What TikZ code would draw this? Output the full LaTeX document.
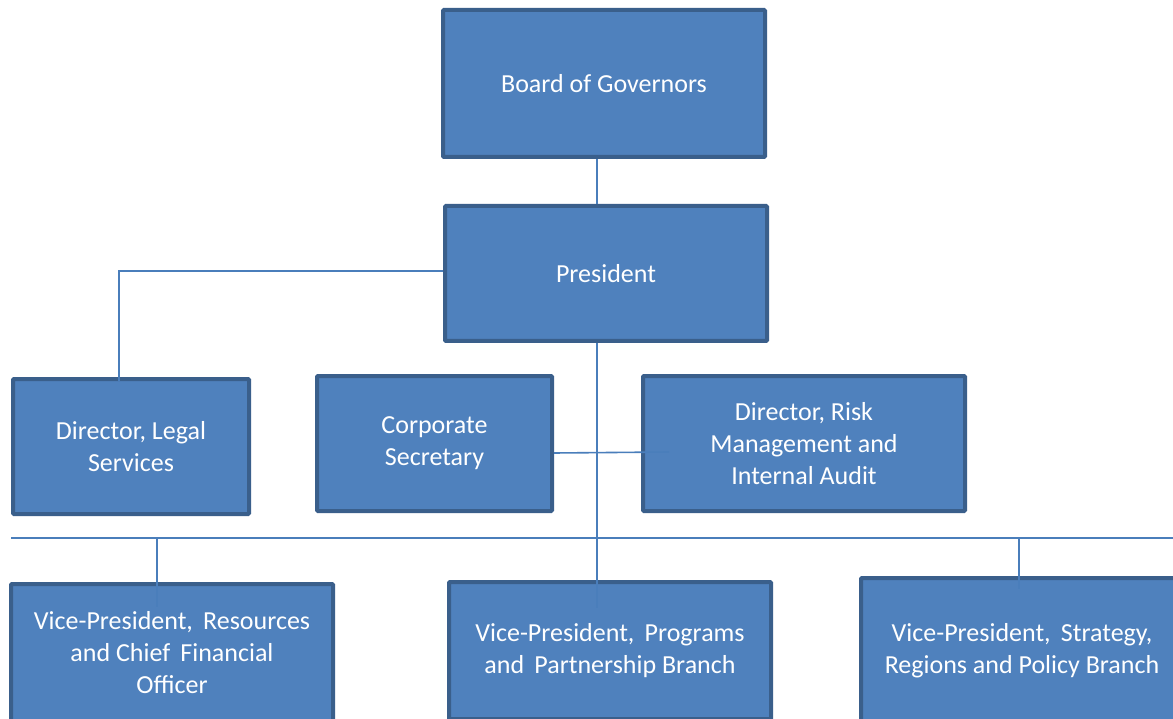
\documentclass[tikz,border=0pt]{standalone}
\usepackage{fontspec}
\setmainfont{Carlito}
\definecolor{boxfill}{HTML}{4F81BD}
\definecolor{boxedge}{HTML}{3A5F8B}
\definecolor{wire}{HTML}{4A7EBB}
\begin{document}
\begin{tikzpicture}[x=1pt,y=-1pt,
  orgbox/.style={draw=boxedge, line width=4pt, fill=boxfill, text=white,
    align=center, inner sep=0pt, rounded corners=1pt,
    font=\fontsize{26}{32}\selectfont},
  wireline/.style={draw=wire, line width=1.6pt}]
\path[use as bounding box] (0,0) rectangle (1173,719);
\fill[white] (0,0) rectangle (1173,719);
% boxes
\node[orgbox, minimum width=322pt, minimum height=147pt] (board) at (604,83.5) {Board of Governors};
\node[orgbox, minimum width=322pt, minimum height=135pt] (pres) at (606,273.5) {President};
\node[orgbox, minimum width=236pt, minimum height=135pt] (legal) at (131,446.5) {Director, Legal\\Services};
\node[orgbox, minimum width=235pt, minimum height=135pt] (cs) at (434.5,443.5) {Corporate\\Secretary};
\node[orgbox, minimum width=322pt, minimum height=135pt] (risk) at (804,443.5) {Director, Risk\\Management and\\Internal Audit};
\node[orgbox, minimum width=322pt, minimum height=138pt] (vpr) at (172,653) {Vice-President,\, Resources\\and Chief\, Financial\\Officer};
\node[orgbox, minimum width=322pt, minimum height=137pt] (vpp) at (610,650.5) {Vice-President,\, Programs\\and\, Partnership Branch};
\node[orgbox, minimum width=322pt, minimum height=145pt] (vps) at (1022,650.5) {Vice-President,\, Strategy,\\Regions and Policy Branch};
% helper coordinates
\coordinate (spine) at (597,0);
\coordinate (legalx) at (119,0);
\coordinate (busL) at (11,538);
\coordinate (busR) at (1173,538);
\coordinate (vprx) at (157,0);
\coordinate (vpsx) at (1019,0);
% connectors
\draw[wireline] (board.south -| spine) -- (pres.north -| spine);
\draw[wireline] ([yshift=2.5pt]pres.west) -| ([yshift=-4pt]legal.north -| legalx);
\draw[wireline] (pres.south -| spine) -- ([yshift=-28pt]vpp.north -| spine);
\draw[wireline] (busL) -- (busR);
\draw[wireline] (busL -| vprx) -- ([yshift=-25pt]vpr.north -| vprx);
\draw[wireline] (busL -| vpsx) -- ([yshift=-13pt]vps.north -| vpsx);
\draw[wireline] ([yshift=-9.5pt]cs.east) -- ([xshift=28pt,yshift=-8.5pt]risk.west);
\end{tikzpicture}
\end{document}
